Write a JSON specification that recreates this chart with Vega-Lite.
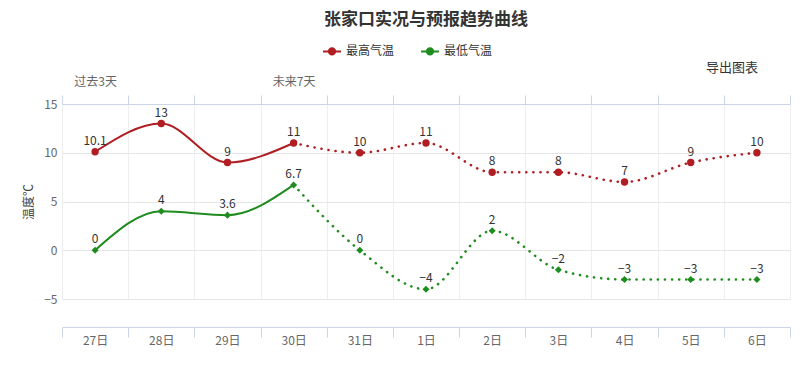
{
  "$schema": "https://vega.github.io/schema/vega-lite/v6.json",
  "width": 728,
  "height": 195,
  "autosize": {"type": "none"},
  "padding": {"left": 62, "top": 104, "right": 15, "bottom": 68},
  "background": "white",
  "config": {"font": "Noto Sans CJK SC", "view": {"stroke": null}},
  "title": {"text": "张家口实况与预报趋势曲线", "anchor": "middle", "fontSize": 17, "fontWeight": "bold", "color": "#333333", "font": "Noto Sans CJK SC", "offset": 12},
  "datasets": {
    "temps": [
      {"day": "27日", "series": "最高气温", "temp": 10.1},
      {"day": "28日", "series": "最高气温", "temp": 13},
      {"day": "29日", "series": "最高气温", "temp": 9},
      {"day": "30日", "series": "最高气温", "temp": 11},
      {"day": "31日", "series": "最高气温", "temp": 10},
      {"day": "1日", "series": "最高气温", "temp": 11},
      {"day": "2日", "series": "最高气温", "temp": 8},
      {"day": "3日", "series": "最高气温", "temp": 8},
      {"day": "4日", "series": "最高气温", "temp": 7},
      {"day": "5日", "series": "最高气温", "temp": 9},
      {"day": "6日", "series": "最高气温", "temp": 10},
      {"day": "27日", "series": "最低气温", "temp": 0},
      {"day": "28日", "series": "最低气温", "temp": 4},
      {"day": "29日", "series": "最低气温", "temp": 3.6},
      {"day": "30日", "series": "最低气温", "temp": 6.7},
      {"day": "31日", "series": "最低气温", "temp": 0},
      {"day": "1日", "series": "最低气温", "temp": -4},
      {"day": "2日", "series": "最低气温", "temp": 2},
      {"day": "3日", "series": "最低气温", "temp": -2},
      {"day": "4日", "series": "最低气温", "temp": -3},
      {"day": "5日", "series": "最低气温", "temp": -3},
      {"day": "6日", "series": "最低气温", "temp": -3}
    ],
    "notes": [
      {"day": "6日", "temp": 15, "t": "导出图表"}
    ]
  },
  "data": {"name": "temps"},
  "encoding": {
    "x": {"field": "day", "type": "ordinal", "bandPosition": 0.5,
      "scale": {"type": "band", "domain": ["27日","28日","29日","30日","31日","1日","2日","3日","4日","5日","6日"], "paddingInner": 0, "paddingOuter": 0},
      "axis": null},
    "y": {"field": "temp", "type": "quantitative",
      "scale": {"domain": [-5, 15], "nice": false, "zero": false},
      "axis": {"values": [-5, 0, 5, 10, 15], "domain": false, "ticks": false, "grid": true, "gridColor": "#e6e6e6", "labelColor": "#666666", "labelFontSize": 12, "labelPadding": 5, "title": "温度℃", "titleColor": "#444444", "titleFontSize": 12, "titleFontWeight": "normal", "titlePadding": 8}}
  },
  "layer": [
    {
      "transform": [{"filter": {"field": "day", "oneOf": ["27日","28日","29日","30日"]}}],
      "mark": {"type": "line", "interpolate": "monotone", "strokeWidth": 2},
      "encoding": {
        "x": {"field": "day", "type": "ordinal", "bandPosition": 0.5,
          "axis": {"orient": "bottom", "offset": 28, "tickBand": "extent", "grid": true, "gridColor": "#eeeeee", "domainColor": "#ccd6eb", "tickColor": "#ccd6eb", "tickSize": 10, "labelColor": "#666666", "labelFontSize": 12, "labelPadding": -2, "labelAngle": 0, "title": null}},
        "color": {"field": "series", "type": "nominal",
          "scale": {"domain": ["最高气温", "最低气温"], "range": ["#b01e23", "#1e8c1e"]},
          "legend": {"orient": "none", "legendX": 260, "legendY": -63, "direction": "horizontal", "title": null, "labelFontSize": 12, "labelColor": "#333333", "labelFont": "Noto Sans CJK SC", "symbolType": "M-1,0H1M-0.35,0A0.35,0.35 0 1,0 0.35,0A0.35,0.35 0 1,0 -0.35,0", "symbolSize": 324, "symbolStrokeWidth": 2, "columnPadding": 22, "labelOffset": 4,
            "encode": {"symbols": {"update": {"fill": {"scale": "color", "field": "value"}, "stroke": {"scale": "color", "field": "value"}}}}}},
        "order": {"value": null}
      }
    },
    {
      "transform": [{"filter": {"field": "day", "oneOf": ["30日","31日","1日","2日","3日","4日","5日","6日"]}}],
      "mark": {"type": "line", "interpolate": "monotone", "strokeWidth": 2.6, "strokeDash": [0.1, 7], "strokeCap": "round"},
      "encoding": {
        "color": {"field": "series", "type": "nominal", "legend": null},
        "order": {"value": null}
      }
    },
    {
      "transform": [{"filter": {"field": "series", "equal": "最高气温"}}],
      "mark": {"type": "point", "filled": true, "opacity": 1, "shape": "circle", "size": 55},
      "encoding": {"color": {"field": "series", "type": "nominal", "legend": null}}
    },
    {
      "transform": [{"filter": {"field": "series", "equal": "最低气温"}}],
      "mark": {"type": "point", "filled": true, "opacity": 1, "shape": "diamond", "size": 50},
      "encoding": {"color": {"field": "series", "type": "nominal", "legend": null}}
    },
    {
      "mark": {"type": "text", "dy": -11, "fontSize": 12, "color": "#333333", "font": "Noto Sans CJK SC"},
      "encoding": {
        "x": {"field": "day", "type": "ordinal", "bandPosition": 0.5,
          "axis": {"orient": "top", "tickBand": "extent", "grid": false, "domainColor": "#ccd6eb", "tickColor": "#ccd6eb", "tickSize": 9, "labelExpr": "datum.value == '27日' ? '过去3天' : datum.value == '30日' ? '未来7天' : ''", "labelColor": "#666666", "labelFontSize": 12, "labelPadding": 7, "labelAngle": 0, "title": null}},
        "text": {"field": "temp", "type": "quantitative", "format": "~g"}
      }
    },
    {
      "data": {"name": "notes"},
      "mark": {"type": "text", "dy": -36, "dx": -25, "fontSize": 13, "color": "#333333", "font": "Noto Sans CJK SC"},
      "encoding": {
        "text": {"field": "t", "type": "nominal"}
      }
    }
  ],
  "resolve": {"axis": {"x": "independent"}}
}
